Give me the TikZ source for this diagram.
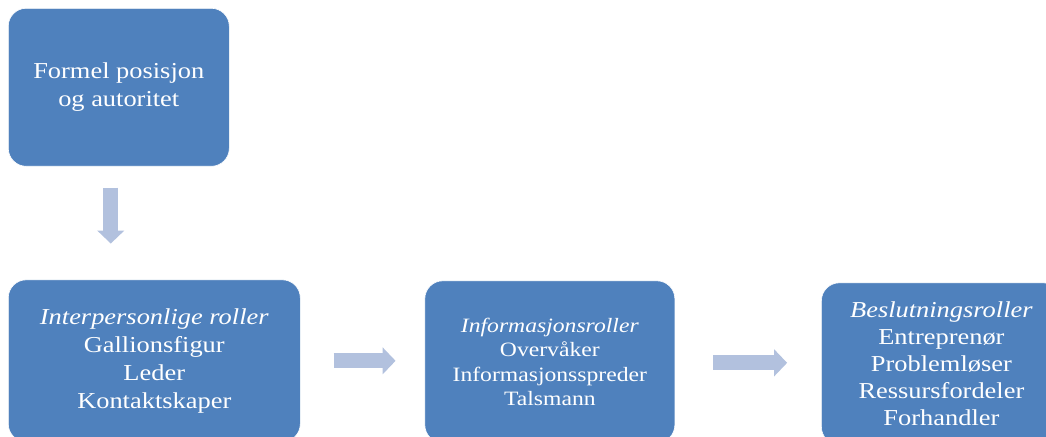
\documentclass[tikz,border=0pt]{standalone}
\usepackage{fontspec}
\setmainfont{Liberation Serif}[FakeStretch=1.16]
\usetikzlibrary{arrows.meta, positioning, calc}

\definecolor{roleblue}{RGB}{79,129,189}
\definecolor{arrowblue}{RGB}{178,193,222}

\begin{document}
\begin{tikzpicture}[
  rolebox/.style={draw=white, line width=0.4pt, fill=roleblue, text=white, rounded corners=0.45cm, align=center, inner sep=0pt},
  bigtext/.style={font=\fontsize{16.2}{19.8}\selectfont},
  smalltext/.style={font=\fontsize{14.5}{17.3}\selectfont},
  blockarrow/.style={arrowblue, line width=0.375cm, -{Triangle[length=0.325cm, width=0.66cm]}}
]
\useasboundingbox (0,0) rectangle (26.15,-10.925);

\node[rolebox, bigtext, minimum width=5.525cm, minimum height=3.95cm, anchor=north west] (formal) at (0.2,-0.2) {Formel posisjon\\og autoritet};

\node[rolebox, bigtext, minimum width=7.3cm, minimum height=4.05cm, below=2.825cm of formal.south west, anchor=north west] (inter) {\textit{Interpersonlige roller}\\Gallionsfigur\\Leder\\Kontaktskaper};
\node[rolebox, smalltext, minimum width=6.25cm, minimum height=4.05cm, right=3.1cm of inter.north east, anchor=north west, yshift=-0.025cm] (info) {\textit{Informasjonsroller}\\Overvåker\\Informasjonsspreder\\Talsmann};
\node[rolebox, font=\fontsize{16.2}{19.2}\selectfont, minimum width=6cm, minimum height=4.05cm, right=3.65cm of info.north east, anchor=north west, yshift=-0.05cm] (decide) {\textit{Beslutningsroller}\\Entreprenør\\Problemløser\\Ressursfordeler\\Forhandler};

\coordinate (downA) at ($(formal.south)+(-0.2,-0.525)$);
\coordinate (downB) at ($(downA)+(0,-1.4)$);
\coordinate (rightA) at ($(inter.east)+(0.825,0)$);
\coordinate (rightB) at ($(rightA)+(1.55,0)$);
\coordinate (rightC) at ($(info.east)+(0.95,-0.025)$);
\coordinate (rightD) at ($(rightC)+(1.85,0)$);

\draw[blockarrow] (downA) -- (downB);
\draw[blockarrow] (rightA) -- (rightB);
\draw[blockarrow] (rightC) -- (rightD);
\end{tikzpicture}
\end{document}
